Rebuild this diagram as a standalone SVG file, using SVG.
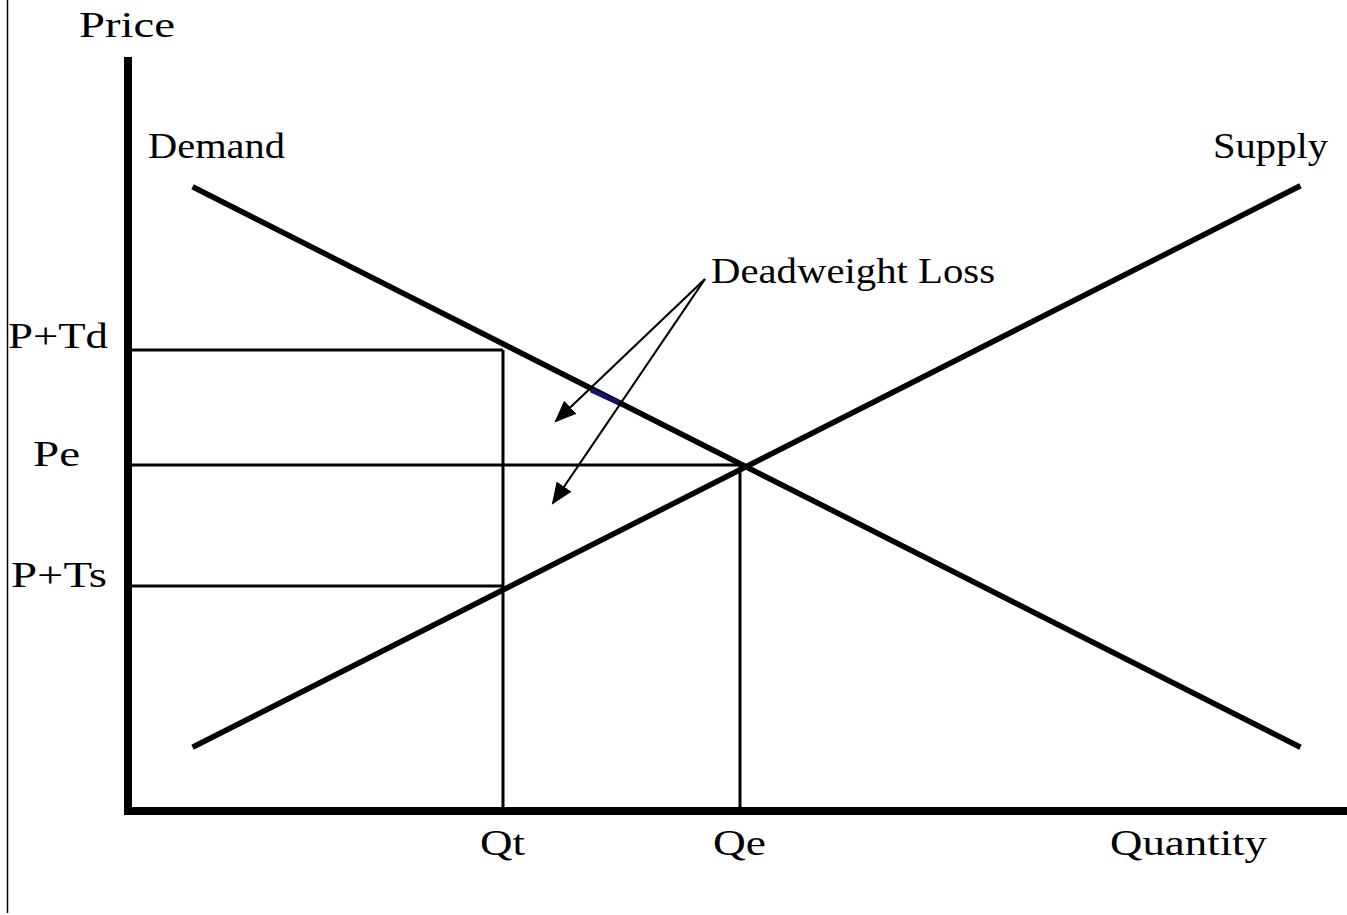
<svg xmlns="http://www.w3.org/2000/svg" width="1347" height="915" viewBox="0 0 1347 915">
<defs>
<style>
text{font-family:"Liberation Serif","Times New Roman",serif;fill:#000;}
.lbl{font-size:35px;}
.axis{stroke:#000;stroke-width:8;fill:none;}
.curve{stroke:#000;stroke-width:5.5;fill:none;stroke-linecap:square;}
.guide{stroke:#000;stroke-width:3;fill:none;}
.ptr{stroke:#000;stroke-width:2.2;fill:none;}
</style>
<marker id="ahb" viewBox="0 0 10 10" refX="9" refY="5" markerWidth="22" markerHeight="18" markerUnits="userSpaceOnUse" orient="auto" preserveAspectRatio="none">
<path d="M0,0 L10,5 L0,10 z" fill="#000"/>
</marker>
</defs>
<rect width="1347" height="915" fill="#fff"/>
<line x1="7.5" y1="0" x2="7.5" y2="913" stroke="#000" stroke-width="1.5"/>
<g id="axes">
<polyline class="axis" points="128,57 128,811 1347,811"/>
</g>
<g id="connectors">
<line class="guide" x1="132" y1="350" x2="503" y2="350"/>
<line class="guide" x1="132" y1="586" x2="503" y2="586"/>
<line class="guide" x1="132" y1="465" x2="740" y2="465" stroke-width="4"/>
<line class="guide" x1="503" y1="350" x2="503" y2="810"/>
<line class="guide" x1="740" y1="465" x2="740" y2="810"/>
<line id="demand-line" class="curve" x1="195" y1="188" x2="1298" y2="746"/>
<line id="supply-line" class="curve" x1="195" y1="746" x2="1298" y2="187"/>
<line x1="591" y1="390" x2="619" y2="403" stroke="#14146e" stroke-width="5"/>
<line class="ptr" x1="705" y1="279" x2="556" y2="421" marker-end="url(#ahb)"/>
<line class="ptr" x1="705" y1="279" x2="553" y2="503" marker-end="url(#ahb)"/>
</g>
<g id="labels">
<text class="lbl" x="79" y="37" textLength="96" lengthAdjust="spacingAndGlyphs" font-size="37">Price</text>
<text id="demand" class="lbl" x="148" y="158" textLength="137" lengthAdjust="spacingAndGlyphs" font-size="33">Demand</text>
<text id="supply" class="lbl" x="1213" y="158" textLength="115" lengthAdjust="spacingAndGlyphs" font-size="33">Supply</text>
<text id="dwl" class="lbl" x="711" y="283" textLength="284" lengthAdjust="spacingAndGlyphs" font-size="31">Deadweight Loss</text>
<text class="lbl" x="8" y="348" textLength="100" lengthAdjust="spacingAndGlyphs">P+Td</text>
<text class="lbl" x="33" y="466" textLength="47" lengthAdjust="spacingAndGlyphs">Pe</text>
<text class="lbl" x="11" y="587" textLength="96" lengthAdjust="spacingAndGlyphs">P+Ts</text>
<text class="lbl" x="480" y="855" textLength="45" lengthAdjust="spacingAndGlyphs">Qt</text>
<text class="lbl" x="713" y="855" textLength="53" lengthAdjust="spacingAndGlyphs">Qe</text>
<text class="lbl" x="1110" y="855" textLength="157" lengthAdjust="spacingAndGlyphs">Quantity</text>
</g>
</svg>
